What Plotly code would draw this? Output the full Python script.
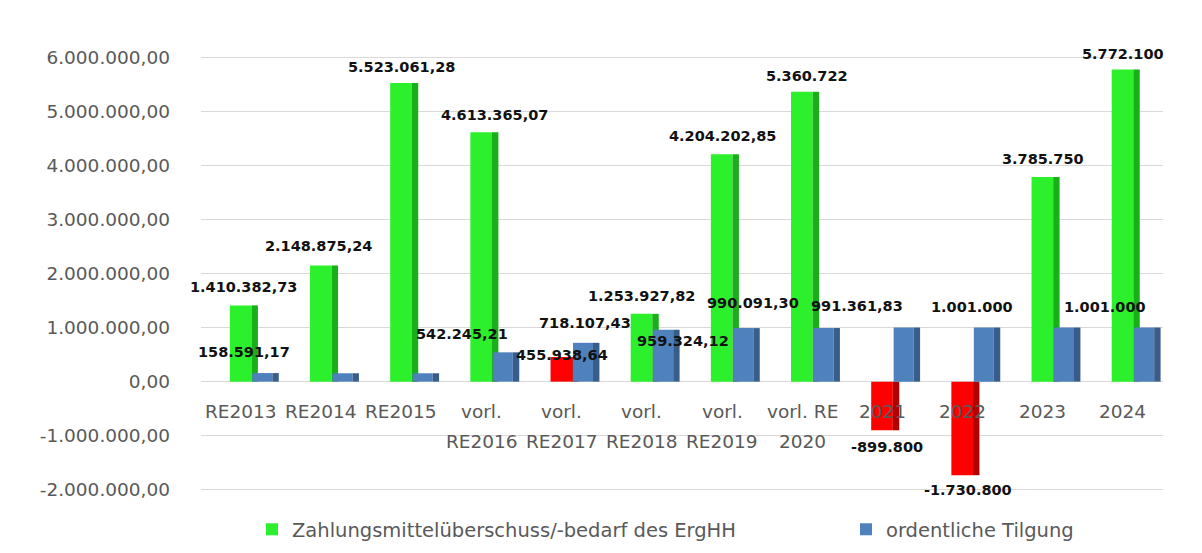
import plotly.graph_objects as go

categories = ["RE2013", "RE2014", "RE2015", "vorl.<br>RE2016", "vorl.<br>RE2017",
              "vorl.<br>RE2018", "vorl.<br>RE2019", "vorl. RE<br>2020", "2021", "2022",
              "2023", "2024"]
zahlungsmittel = [1410382.73, 2148875.24, 5523061.28, 4613365.07, 455938.64,
                  1253927.82, 4204202.85, 5360722, -899800, -1730800, 3785750, 5772100]
tilgung = [158591.17, 155000, 155000, 542245.21, 718107.43, 959324.12,
           990091.30, 991361.83, 1001000, 1001000, 1001000, 1001000]
tilgung_label_shown = [True, False, False, True, True, True, True, True, False, True, False, True]
zahl_is_red = [False, False, False, False, True, False, False, False, True, True, False, False]
y_ticks = [-2000000, -1000000, 0, 1000000, 2000000, 3000000, 4000000, 5000000, 6000000]

# pixel offsets of the data labels (style only), as placed in the original
zahl_label_dx = [2, -3, 0, 13, 0, 0, 0, 5, 5, 5, 0, 0]
zahl_label_dy = [18, 19, 16, 17, 2, 18, 18, 16, -17, -15, 18, 16]
tilgung_label_dx = [3, 0, 0, -20, 23, 41, 31, 55, 0, 9, 0, -18]
tilgung_label_dy = [21, 0, 0, 18, 20, -11, 25, 22, 0, 21, 0, 21]


def de_fmt(v, force_dec=False):
    if float(v).is_integer() and not force_dec:
        s = f"{int(round(v)):,}".replace(",", ".")
    else:
        s = f"{v:,.2f}".replace(",", "X").replace(".", ",").replace("X", ".")
    return s


GREEN, GREEN_D = "#2DF02D", "#1BAE1B"
RED, RED_D = "#FF0000", "#B00000"
BLUE, BLUE_D = "#4F81BD", "#385D8A"
GRAY_TXT = "#595959"

W, H = 1202, 553
ML, MR, MT, MB = 193, 47, 33, 47
PW, PH = W - ML - MR, H - MT - MB

font_fam = "DejaVu Sans"
z_front = [RED if r else GREEN for r in zahl_is_red]
z_side = [RED_D if r else GREEN_D for r in zahl_is_red]
label_font = dict(family=font_fam, size=14.5, color="#111111", weight="bold")

fig = go.Figure()
fig.add_trace(go.Bar(
    x=categories, y=zahlungsmittel, name="Zahlungsmittelüberschuss/-bedarf des ErgHH",
    marker=dict(color=z_front, line=dict(width=0)), offset=-0.14, width=0.27,
    legend="legend",
))
fig.add_trace(go.Bar(
    x=categories, y=zahlungsmittel, showlegend=False, hoverinfo="skip",
    marker=dict(color=z_side, line=dict(width=0)), offset=0.13, width=0.08,
))
fig.add_trace(go.Bar(
    x=categories, y=tilgung, name="ordentliche Tilgung",
    marker=dict(color=BLUE, line=dict(width=0)), offset=0.14, width=0.25,
    legend="legend2",
))
fig.add_trace(go.Bar(
    x=categories, y=tilgung, showlegend=False, hoverinfo="skip",
    marker=dict(color=BLUE_D, line=dict(width=0)), offset=0.39, width=0.08,
))

annotations = []
# category labels (x = category index on the category axis)
for idx, c in enumerate(categories):
    for i, p in enumerate(c.split("<br>")):
        annotations.append(dict(
            x=idx, y=0, xref="x", yref="y", text=p, showarrow=False,
            yanchor="top", yshift=-17 - 30 * i,
            font=dict(family=font_fam, size=18.5, color=GRAY_TXT),
        ))

# green/red series labels
for idx, (v, dx, dy) in enumerate(zip(zahlungsmittel, zahl_label_dx, zahl_label_dy)):
    annotations.append(dict(
        x=idx, y=v, xref="x", yref="y", text=de_fmt(v), showarrow=False,
        xanchor="center", yanchor="middle", xshift=dx, yshift=dy,
        font=label_font,
    ))

# blue series labels
for idx, (v, s, dx, dy) in enumerate(zip(tilgung, tilgung_label_shown,
                                         tilgung_label_dx, tilgung_label_dy)):
    if s:
        annotations.append(dict(
            x=idx, y=v, xref="x", yref="y", text=de_fmt(v), showarrow=False,
            xanchor="center", yanchor="middle", xshift=dx, yshift=dy,
            font=label_font,
        ))

leg_y = (H - MB - 530) / PH
fig.update_layout(
    width=W, height=H,
    margin=dict(l=ML, r=MR, t=MT, b=MB),
    paper_bgcolor="white", plot_bgcolor="white",
    barmode="overlay", separators=",.",
    font=dict(family=font_fam, color=GRAY_TXT),
    xaxis=dict(showticklabels=False, showgrid=False, zeroline=False,
               range=[-0.5, 11.5], type="category"),
    yaxis=dict(range=[-2300000, 6300000], tickvals=y_ticks,
               ticktext=[de_fmt(t, True) for t in y_ticks],
               showgrid=True, gridcolor="#d9d9d9", gridwidth=1,
               zeroline=True, zerolinecolor="#d9d9d9", zerolinewidth=1,
               tickfont=dict(family=font_fam, size=18.5, color=GRAY_TXT),
               ticklabelstandoff=30),
    legend=dict(x=(244 - ML) / PW, y=leg_y, xanchor="left", yanchor="middle",
                font=dict(family=font_fam, size=19.5, color=GRAY_TXT),
                bgcolor="rgba(0,0,0,0)"),
    legend2=dict(x=(838 - ML) / PW, y=leg_y, xanchor="left", yanchor="middle",
                 font=dict(family=font_fam, size=19.5, color=GRAY_TXT),
                 bgcolor="rgba(0,0,0,0)"),
    annotations=annotations,
)

fig.write_html("out.html")
